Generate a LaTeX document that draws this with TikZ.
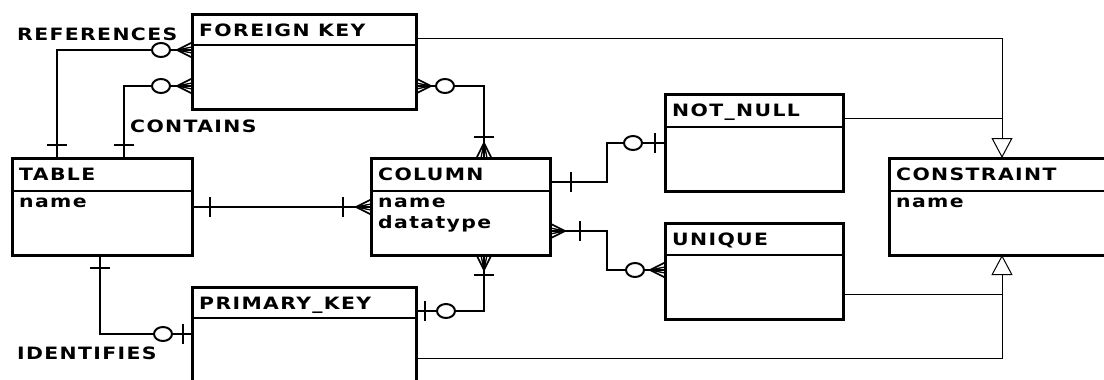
\documentclass[tikz,border=0pt]{standalone}
\usepackage{fontspec}
\newfontfamily\erfont{DejaVu Sans}[FakeStretch=1.2,LetterSpace=8]
\usetikzlibrary{calc,arrows.meta}
\tikzset{
 erbox/.style={draw, line width=3pt, inner sep=0pt, outer sep=0pt, fill=white},
 erdiv/.style={line width=2.5pt},
 ertext/.style={inner sep=0pt, font=\erfont\bfseries\fontsize{17}{21}\selectfont},
 erline/.style={line width=2pt},
 isa/.style={line width=1pt},
 isatip/.style={-{Triangle[open,width=21pt,length=20pt]}},
 pics/erTick/.style={code={\draw[erline] (#1,-10) -- (#1,10);}},
 pics/erCirc/.style={code={\draw[erline,fill=white] (#1,0) ellipse [x radius=9pt, y radius=7pt];}},
 pics/erCrow/.style={code={\draw[line width=1.6pt] (0,7.5) -- (15,0) -- (0,-7.5); \draw[line width=1.3pt] (0,3) -- (15,0) -- (0,-3);}},
}
\newcommand\erBox[7]{% name, x1,y1,x2,y2, divider y, title
 \node[erbox, minimum width={#4-#2}, minimum height={#5-#3}] (#1) at ({(#2+#4)/2},{(#3+#5)/2}) {};
 \draw[erdiv] ($(#1.north west)+(0,#6-#3)$) -- ($(#1.north east)+(0,#6-#3)$);
 \node[ertext, anchor=base west] (#1-title) at ($(#1.north west)+(7,22)$) {#7};
}
\begin{document}
\begin{tikzpicture}[x=1pt,y=-1pt]
\useasboundingbox (0,0) rectangle (1104,380);
\clip (0,0) rectangle (1104,380);
\fill[white] (0,0) rectangle (1104,380);

% boxes
\erBox{fk}{192}{14}{416}{109}{45}{FOREIGN KEY}
\erBox{tbl}{12}{158}{192}{255}{191}{TABLE}
\erBox{col}{371}{158}{550}{255}{191}{COLUMN}
\erBox{nn}{665}{94}{843}{191}{127}{NOT\_NULL}
\erBox{uq}{665}{223}{843}{319}{255}{UNIQUE}
\erBox{con}{889}{158}{1112}{255}{191}{CONSTRAINT}
\erBox{pk}{192}{287}{416}{392}{318}{PRIMARY\_KEY}

% attributes
\node[ertext, anchor=base west] (tbl-a1) at ($(tbl.north west)+(7,49)$) {name};
\node[ertext, anchor=base west] (col-a1) at ($(col.north west)+(7,49)$) {name};
\node[ertext, anchor=base west] (col-a2) at ($(col.north west)+(7,70)$) {datatype};
\node[ertext, anchor=base west] (con-a1) at ($(con.north west)+(7,49)$) {name};

% relationship labels
\node[ertext, anchor=base west] (lref) at (17,40) {REFERENCES};
\node[ertext, anchor=base west] (lcon) at (130,132) {CONTAINS};
\node[ertext, anchor=base west] (lid) at (17,359) {IDENTIFIES};

% anchor points
\coordinate (refA) at ($(tbl.north west)+(45,0)$);
\coordinate (refB) at ($(fk.north west)+(0,36)$);
\coordinate (cntA) at ($(tbl.north west)+(112,0)$);
\coordinate (cntB) at ($(fk.north west)+(0,72)$);
\coordinate (fcA) at ($(fk.north east)+(0,72)$);
\coordinate (fcB) at ($(col.north west)+(113,0)$);
\coordinate (tcA) at ($(tbl.north east)+(0,49)$);
\coordinate (tcB) at ($(col.north west)+(0,49)$);
\coordinate (cnA) at ($(col.north east)+(0,24)$);
\coordinate (cnM) at ($(col.north east)+(57,24)$);
\coordinate (cnB) at ($(nn.north west)+(0,49)$);
\coordinate (cuA) at ($(col.north east)+(0,73)$);
\coordinate (cuM) at ($(col.north east)+(57,73)$);
\coordinate (cuB) at ($(uq.north west)+(0,47)$);
\coordinate (cpA) at ($(col.south west)+(113,0)$);
\coordinate (cpB) at ($(pk.north east)+(0,24)$);
\coordinate (tpA) at ($(tbl.south west)+(88,0)$);
\coordinate (tpB) at ($(pk.north west)+(0,47)$);

% ER connectors
\draw[erline] (refA) |- (refB);
\draw[erline] (cntA) |- (cntB);
\draw[erline] (fcA) -| (fcB);
\draw[erline] (tcA) -- (tcB);
\draw[erline] (cnA) -- (cnM) |- (cnB);
\draw[erline] (cuA) -- (cuM) |- (cuB);
\draw[erline] (cpA) |- (cpB);
\draw[erline] (tpA) |- (tpB);

% end symbols
\pic[rotate=90] at (refA) {erTick=13};
\pic[rotate=180] at (refB) {erCrow};
\pic[rotate=180] at (refB) {erCirc=31};
\pic[rotate=90] at (cntA) {erTick=13};
\pic[rotate=180] at (cntB) {erCrow};
\pic[rotate=180] at (cntB) {erCirc=31};
\pic at (fcA) {erCrow};
\pic at (fcA) {erCirc=29};
\pic[rotate=90] at (fcB) {erCrow};
\pic[rotate=90] at (fcB) {erTick=21};
\pic at (tcA) {erTick=18};
\pic[rotate=180] at (tcB) {erCrow};
\pic[rotate=180] at (tcB) {erTick=28};
\pic at (cnA) {erTick=21};
\pic[rotate=180] at (cnB) {erTick=10};
\pic[rotate=180] at (cnB) {erCirc=32};
\pic at (cuA) {erCrow};
\pic at (cuA) {erTick=30};
\pic[rotate=180] at (cuB) {erCrow};
\pic[rotate=180] at (cuB) {erCirc=30};
\pic[rotate=-90] at (cpA) {erCrow};
\pic[rotate=-90] at (cpA) {erTick=20};
\pic at (cpB) {erTick=9};
\pic at (cpB) {erCirc=30};
\pic[rotate=-90] at (tpA) {erTick=13};
\pic[rotate=180] at (tpB) {erTick=9};
\pic[rotate=180] at (tpB) {erCirc=29};

% inheritance
\coordinate (jx) at ($(con.north west)+(113,0)$);
\coordinate (jb) at ($(con.south west)+(113,0)$);
\coordinate (fkA) at ($(fk.north east)+(0,24)$);
\coordinate (nnA) at ($(nn.north east)+(0,24)$);
\coordinate (uqA) at ($(uq.north east)+(0,71)$);
\coordinate (pkA) at ($(pk.north east)+(0,71)$);
\draw[isa, isatip] (fkA) -| (jx);
\draw[isa] (nnA) -- (nnA -| jx);
\draw[isa] (uqA) -- (uqA -| jx);
\draw[isa, isatip] (pkA) -| (jb);
\end{tikzpicture}
\end{document}
